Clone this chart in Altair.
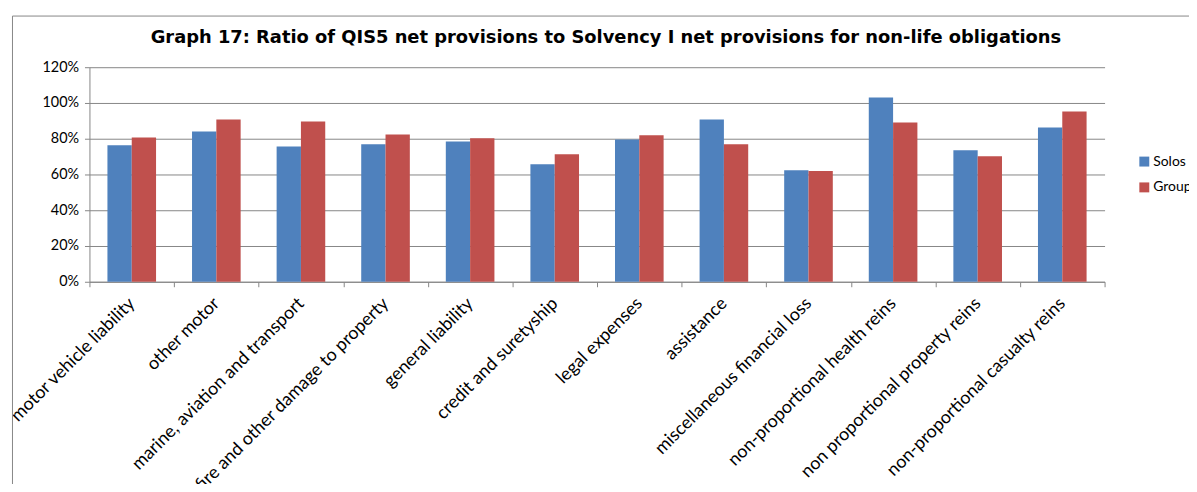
import altair as alt
import pandas as pd

categories = [
    "motor vehicle liability", "other motor", "marine, aviation and transport",
    "fire and other damage to property", "general liability", "credit and suretyship",
    "legal expenses", "assistance", "miscellaneous financial loss",
    "non-proportional health reins", "non proportional property reins",
    "non-proportional casualty reins",
]
series = ["Solos", "Groups"]
solos = [76.3, 84.1, 75.7, 76.9, 78.5, 65.7, 79.6, 90.7, 62.4, 103.0, 73.5, 86.3]
groups = [80.7, 90.7, 89.6, 82.4, 80.2, 71.3, 81.9, 76.9, 61.9, 89.1, 70.2, 95.2]
colors = ["#4F81BD", "#C0504D"]
y_ticks = [0, 0.2, 0.4, 0.6, 0.8, 1.0, 1.2]
title_text = "Graph 17: Ratio of QIS5 net provisions to Solvency I net provisions for non-life obligations"

rows = []
for c, s, g in zip(categories, solos, groups):
    rows.append({"category": c, "series": "Solos", "value": s / 100})
    rows.append({"category": c, "series": "Groups", "value": g / 100})
df = pd.DataFrame(rows)

GRAY = "#868686"
W, H = 1022, 216

bars = alt.Chart(df).mark_bar().encode(
    x=alt.X("category:N", sort=categories, title=None,
            scale=alt.Scale(paddingInner=0, paddingOuter=0),
            axis=alt.Axis(labelAngle=315, labelAlign="right", labelBaseline="middle",
                          labelFont="Lato", labelFontSize=18, labelColor="black",
                          labelPadding=14, tickBand="extent", tickSize=5,
                          tickColor=GRAY, domainColor=GRAY, grid=False,
                          labelOverlap=False, labelLimit=400)),
    xOffset=alt.XOffset("series:N", sort=series,
                        scale=alt.Scale(paddingInner=0, paddingOuter=0.74)),
    y=alt.Y("value:Q", title=None,
            scale=alt.Scale(domain=[0, 1.2], nice=False),
            axis=alt.Axis(values=y_ticks, format=".0%", grid=True, gridColor=GRAY,
                          domainColor=GRAY, tickColor=GRAY, tickSize=5,
                          labelFont="Lato", labelFontSize=14.5, labelColor="black",
                          labelPadding=6)),
    color=alt.Color("series:N", sort=series,
                    scale=alt.Scale(domain=series, range=colors),
                    legend=alt.Legend(title=None, orient="none", legendX=1055, legendY=88,
                                      symbolType="square", symbolSize=100,
                                      symbolStrokeWidth=0, labelFont="Lato",
                                      labelFontSize=14, labelColor="black",
                                      rowPadding=12, padding=0, labelOffset=2)),
)

one = pd.DataFrame({"a": [0]})
frame_left = alt.Chart(one).mark_rule(color=GRAY, strokeWidth=1).encode(
    x=alt.value(-77.5), y=alt.value(-51.5), y2=alt.value(600))
frame_top = alt.Chart(one).mark_rule(color=GRAY, strokeWidth=1).encode(
    x=alt.value(-77.5), x2=alt.value(1300), y=alt.value(-51.5))
title = alt.Chart(one).mark_text(
    text=title_text, font="DejaVu Sans", fontSize=18, fontWeight="bold",
    color="black", align="center", baseline="alphabetic",
).encode(x=alt.value(520), y=alt.value(-24.5))

chart = alt.layer(bars, frame_left, frame_top, title).properties(
    width=W, height=H,
    padding={"left": 82, "top": 58, "right": 85, "bottom": 202},
    autosize=alt.AutoSizeParams(type="none"),
).configure_view(stroke=None)

chart.save("out.html", embed_options={"renderer": "svg", "actions": False})
